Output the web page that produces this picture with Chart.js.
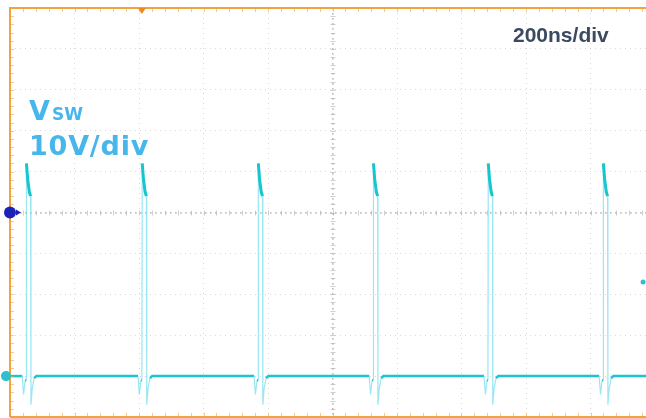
<!DOCTYPE html>
<html>
<head>
<meta charset="utf-8">
<script src="https://cdn.jsdelivr.net/npm/chart.js@4"></script>
<style>
  html, body { margin: 0; padding: 0; background: #fff; overflow: hidden; }
</style>
</head>
<body>
<canvas id="scope" width="660" height="418"></canvas>
<script>
// time axis in ns (200ns/div), voltage in V (10V/div)
const timeTicks = [0, 200, 400, 600, 800, 1000, 1200, 1400, 1600, 1800, 2000];
const voltTicks = [-10, 0, 10, 20, 30, 40, 50, 60, 70, 80, 90];

// rising edge of each switching pulse (ns)
const pulseStarts = [50, 409, 769, 1126, 1482, 1839];
// shape of one pulse: offset from edge (ns) and level (V)
const pulseOffsets = [-25, -12, -8, -3, 0, 1, 5, 10, 14, 15, 19, 25, 32];
const pulseVolts   = [0, 0, -4.5, -1, -1, 52, 48, 45, 44, -7, -3, -0.5, 0];

// markers on the screen
const trigLevel = 40;      // blue level marker on the left
const trigTime = 409;      // orange marker on top
const groundLevel = 0;     // cyan channel marker
const rightMarker = { x: 1963, y: 23 };

// build the trace from the pulse table
const trace = [{ x: 0, y: 0 }];
pulseStarts.forEach(t0 => {
    pulseOffsets.forEach((dt, i) => {
        trace.push({ x: t0 + dt, y: pulseVolts[i] });
    });
});
trace.push({ x: 2000, y: 0 });

const scopeDecor = {
    id: 'scopeDecor',
    beforeDatasetsDraw(chart) {
        const { ctx, chartArea: a, scales: { x, y } } = chart;
        ctx.save();
        // centre lines with minor ticks
        const cx = x.getPixelForValue(1000);
        const cy = y.getPixelForValue(40);
        ctx.strokeStyle = 'rgba(150,150,150,0.7)';
        ctx.lineWidth = 1;
        ctx.setLineDash([2, 3]);
        ctx.beginPath();
        ctx.moveTo(a.left, cy + 0.5); ctx.lineTo(a.right, cy + 0.5);
        ctx.moveTo(cx + 0.5, a.top); ctx.lineTo(cx + 0.5, a.bottom);
        ctx.stroke();
        ctx.setLineDash([]);
        ctx.strokeStyle = 'rgba(170,170,170,0.55)';
        ctx.beginPath();
        for (let t = 0; t <= 2000; t += 40) {
            const px = Math.round(x.getPixelForValue(t)) + 0.5;
            ctx.moveTo(px, cy - 2); ctx.lineTo(px, cy + 3);
        }
        for (let v = -10; v <= 90; v += 2) {
            const py = Math.round(y.getPixelForValue(v)) + 0.5;
            ctx.moveTo(cx - 2, py); ctx.lineTo(cx + 3, py);
        }
        ctx.stroke();
        ctx.restore();
    },
    afterDraw(chart) {
        const { ctx, chartArea: a, scales: { x, y } } = chart;
        ctx.save();
        // orange frame with minor ticks
        ctx.strokeStyle = '#f2a33c';
        ctx.lineWidth = 2;
        ctx.beginPath();
        ctx.moveTo(a.left, a.bottom); ctx.lineTo(a.left, a.top); ctx.lineTo(a.right, a.top);
        ctx.moveTo(a.left, a.bottom); ctx.lineTo(a.right, a.bottom);
        ctx.stroke();
        ctx.strokeStyle = 'rgba(242,163,60,0.6)';
        ctx.lineWidth = 1;
        ctx.beginPath();
        for (let t = 0; t <= 2000; t += 40) {
            const px = Math.round(x.getPixelForValue(t)) + 0.5;
            ctx.moveTo(px, a.top); ctx.lineTo(px, a.top + 4);
            ctx.moveTo(px, a.bottom); ctx.lineTo(px, a.bottom - 4);
        }
        for (let v = -10; v <= 90; v += 2) {
            const py = Math.round(y.getPixelForValue(v)) + 0.5;
            ctx.moveTo(a.left, py); ctx.lineTo(a.left + 4, py);
        }
        ctx.stroke();

        // trigger position marker (top)
        const tx = x.getPixelForValue(trigTime);
        ctx.fillStyle = '#f08a1c';
        ctx.beginPath();
        ctx.moveTo(tx - 4, a.top); ctx.lineTo(tx + 4, a.top); ctx.lineTo(tx, a.top + 6);
        ctx.closePath(); ctx.fill();

        // trigger level marker (left)
        const ly = y.getPixelForValue(trigLevel);
        ctx.fillStyle = '#1b22b8';
        ctx.beginPath(); ctx.arc(a.left, ly, 6, 0, Math.PI * 2); ctx.fill();
        ctx.beginPath();
        ctx.moveTo(a.left + 6, ly - 3); ctx.lineTo(a.left + 11, ly); ctx.lineTo(a.left + 6, ly + 3);
        ctx.closePath(); ctx.fill();

        // channel ground marker
        const gy = y.getPixelForValue(groundLevel);
        ctx.fillStyle = '#2ec0cf';
        ctx.beginPath(); ctx.arc(a.left - 4, gy, 5, 0, Math.PI * 2); ctx.fill();

        // small marker at right edge
        ctx.beginPath();
        ctx.arc(x.getPixelForValue(rightMarker.x), y.getPixelForValue(rightMarker.y), 2.5, 0, Math.PI * 2);
        ctx.fill();

        // labels
        ctx.fillStyle = '#47b6ea';
        ctx.textBaseline = 'alphabetic';
        ctx.font = 'bold 27px "DejaVu Sans", sans-serif';
        ctx.fillText('V', 29, 120);
        ctx.font = 'bold 17px "DejaVu Sans", sans-serif';
        ctx.fillText('SW', 52, 120);
        ctx.font = 'bold 27px "DejaVu Sans", sans-serif';
        ctx.letterSpacing = '0.8px';
        ctx.fillText('10V/div', 29, 155);
        ctx.letterSpacing = '0px';

        ctx.fillStyle = '#3b4a5f';
        ctx.font = 'bold 21px "Liberation Sans", Arial, sans-serif';
        ctx.fillText('200ns/div', 513, 42);
        ctx.restore();
    }
};

const faint = 'rgba(120,222,236,0.75)';
const bright = '#1cc4d2';

// steep edges are drawn faint, the ringing on top of the pulse bright
function segStyle(c, faintVal, topVal) {
    const dx = Math.abs(c.p1.x - c.p0.x);
    const dy = Math.abs(c.p1.y - c.p0.y);
    if (c.p0.parsed.y > 20 && c.p1.parsed.y > 20) return topVal;
    return dy > 3 * dx + 4 ? faintVal : undefined;
}

new Chart(document.getElementById('scope'), {
    type: 'line',
    data: {
        datasets: [{
            label: 'VSW',
            data: trace,
            borderColor: bright,
            borderWidth: 2.5,
            pointRadius: 0,
            tension: 0,
            segment: {
                borderColor: c => segStyle(c, faint, '#16c6cf'),
                borderWidth: c => segStyle(c, 1.2, 3)
            }
        }]
    },
    options: {
        responsive: false,
        animation: false,
        devicePixelRatio: 1,
        layout: { padding: { left: 10, top: 8, right: 5, bottom: 1 } },
        plugins: { legend: { display: false }, tooltip: { enabled: false } },
        scales: {
            x: {
                type: 'linear',
                min: timeTicks[0],
                max: timeTicks[timeTicks.length - 1],
                ticks: { display: false, stepSize: timeTicks[1] - timeTicks[0] },
                grid: { drawTicks: false, tickLength: 0, color: 'rgba(170,170,170,0.45)' },
                border: { display: false, dash: [1, 4] }
            },
            y: {
                min: voltTicks[0],
                max: voltTicks[voltTicks.length - 1],
                ticks: { display: false, stepSize: voltTicks[1] - voltTicks[0] },
                grid: { drawTicks: false, tickLength: 0, color: 'rgba(170,170,170,0.45)' },
                border: { display: false, dash: [1, 4] }
            }
        }
    },
    plugins: [scopeDecor]
});
</script>
</body>
</html>
